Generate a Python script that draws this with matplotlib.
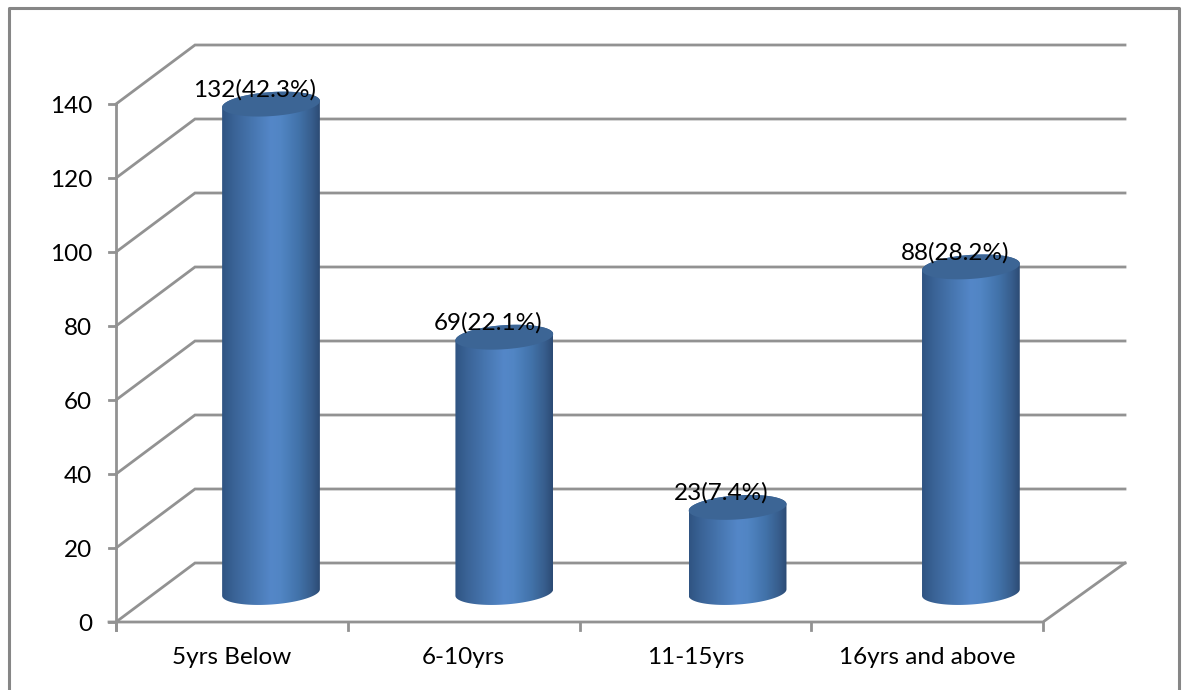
import numpy as np
import matplotlib
matplotlib.use('Agg')
import matplotlib.pyplot as plt
from matplotlib.colors import LinearSegmentedColormap
from matplotlib.patches import PathPatch
from matplotlib.path import Path

plt.rcParams['font.family'] = ['Lato', 'DejaVu Sans']

# chart data
categories = ['5yrs Below', '6-10yrs', '11-15yrs', '16yrs and above']
counts = [132, 69, 23, 88]
shares = [42.3, 22.1, 7.4, 28.2]
y_ticks = [0, 20, 40, 60, 80, 100, 120, 140]

W, H = 1186, 690
GRAY = '#929292'

# size of one category and one count on the canvas, in pixels
PX_X = 231.75
PX_Y = 3.7
X0, Y0 = 116, 622

# wall depth of the fake 3D box, in data units
DEPTH_X = 79 / PX_X
DEPTH_Y = 59 / PX_Y

fig = plt.figure(figsize=(W / 100, H / 100), dpi=100)
ax = fig.add_axes([0, 0, 1, 1])
ax.set_xlim(-X0 / PX_X, (W - X0) / PX_X)
ax.set_ylim((Y0 - H) / PX_Y, Y0 / PX_Y)
ax.axis('off')

# outer chart border, open at the bottom
bx0, bx1 = (9.5 - X0) / PX_X, (1179 - X0) / PX_X
by0, by1 = (Y0 - H - 5) / PX_Y, (Y0 - 8) / PX_Y
ax.plot([bx0, bx0, bx1, bx1], [by0, by1, by1, by0], color='#868686', lw=2.2, clip_on=False)

n = len(categories)
back_right = n + DEPTH_X + 3 / PX_X
px_x, px_y = 1 / PX_X, 1 / PX_Y

# gridlines: side wall diagonal plus back wall line
for v in y_ticks:
    ax.plot([0, DEPTH_X, back_right], [v, v + DEPTH_Y, v + DEPTH_Y],
            color=GRAY, lw=2.0, solid_joinstyle='miter', zorder=1)
    ax.plot([-7 * px_x, 0], [v, v], color=GRAY, lw=2.0, zorder=1)
    ax.text(-24 * px_x, v - 2.5 * px_y, str(v), ha='right', va='center', fontsize=17.5, color='black')

# floor front and right edges, value axis
ax.plot([-7 * px_x, n, back_right], [0, 0, DEPTH_Y], color=GRAY, lw=2.0, zorder=1)
ax.plot([0, 0], [-2.2, y_ticks[-1]], color=GRAY, lw=2.0, zorder=1)
for i in range(n + 1):
    ax.plot([i, i], [0, -8 * px_y], color=GRAY, lw=2.0, zorder=1)
for i, name in enumerate(categories):
    ax.text(i + 0.5, -35 * px_y, name, ha='center', va='center', fontsize=17.5, color='black')

# cylinders, shaded left to right
body_cmap = LinearSegmentedColormap.from_list('body', [
    (0.0, '#2f5482'), (0.12, '#3a6396'), (0.3, '#4675ae'), (0.5, '#5487c8'),
    (0.6, '#5185c4'), (0.78, '#4273aa'), (0.92, '#375d8c'), (1.0, '#2c4b74')])
gradient = np.linspace(0, 1, 256).reshape(1, -1)

# bars sit a little wider apart than the category ticks
BAR_STEP = 233.3 / PX_X
BAR_START = (271 - X0) / PX_X
tilt = np.radians(4)


def ellipse_pts(cx, cy, t):
    # tilted ellipse, worked out in pixels then converted to data units
    ex = 49 * np.cos(t)
    ey = 12.0 * np.sin(t)
    return (cx + (ex * np.cos(tilt) - ey * np.sin(tilt)) * px_x,
            cy + (ex * np.sin(tilt) + ey * np.cos(tilt)) * px_y)


for i, (count, share) in enumerate(zip(counts, shares)):
    cx = BAR_START + i * BAR_STEP
    base = DEPTH_Y / 2
    top = base + count

    t_low = np.linspace(np.pi, 2 * np.pi, 60)
    lx, ly = ellipse_pts(cx, base, t_low)
    t_up = np.linspace(0, np.pi, 60)
    ux, uy = ellipse_pts(cx, top, t_up)
    verts = np.column_stack([np.r_[lx, ux], np.r_[ly, uy]])
    outline = Path(np.vstack([verts, verts[0]]), closed=True)

    x_left, x_right = verts[:, 0].min(), verts[:, 0].max()
    im = ax.imshow(gradient, cmap=body_cmap, aspect='auto', zorder=2,
                   extent=[x_left, x_right, -20, 160], interpolation='bilinear')
    patch = PathPatch(outline, transform=ax.transData, fc='none', ec='none')
    ax.add_patch(patch)
    im.set_clip_path(patch)

    t = np.linspace(0, 2 * np.pi, 120)
    tx, ty = ellipse_pts(cx, top, t)
    ax.fill(tx, ty, color='#3c6595', lw=0, zorder=3)

    ax.text(cx - 16 * px_x, top + 14.5 * px_y, f'{count}({share}%)', ha='center', va='center',
            fontsize=17.5, color='black', zorder=4)

ax.set_xlim(-X0 / PX_X, (W - X0) / PX_X)
ax.set_ylim((Y0 - H) / PX_Y, Y0 / PX_Y)
fig.savefig('out.png', dpi=100)
